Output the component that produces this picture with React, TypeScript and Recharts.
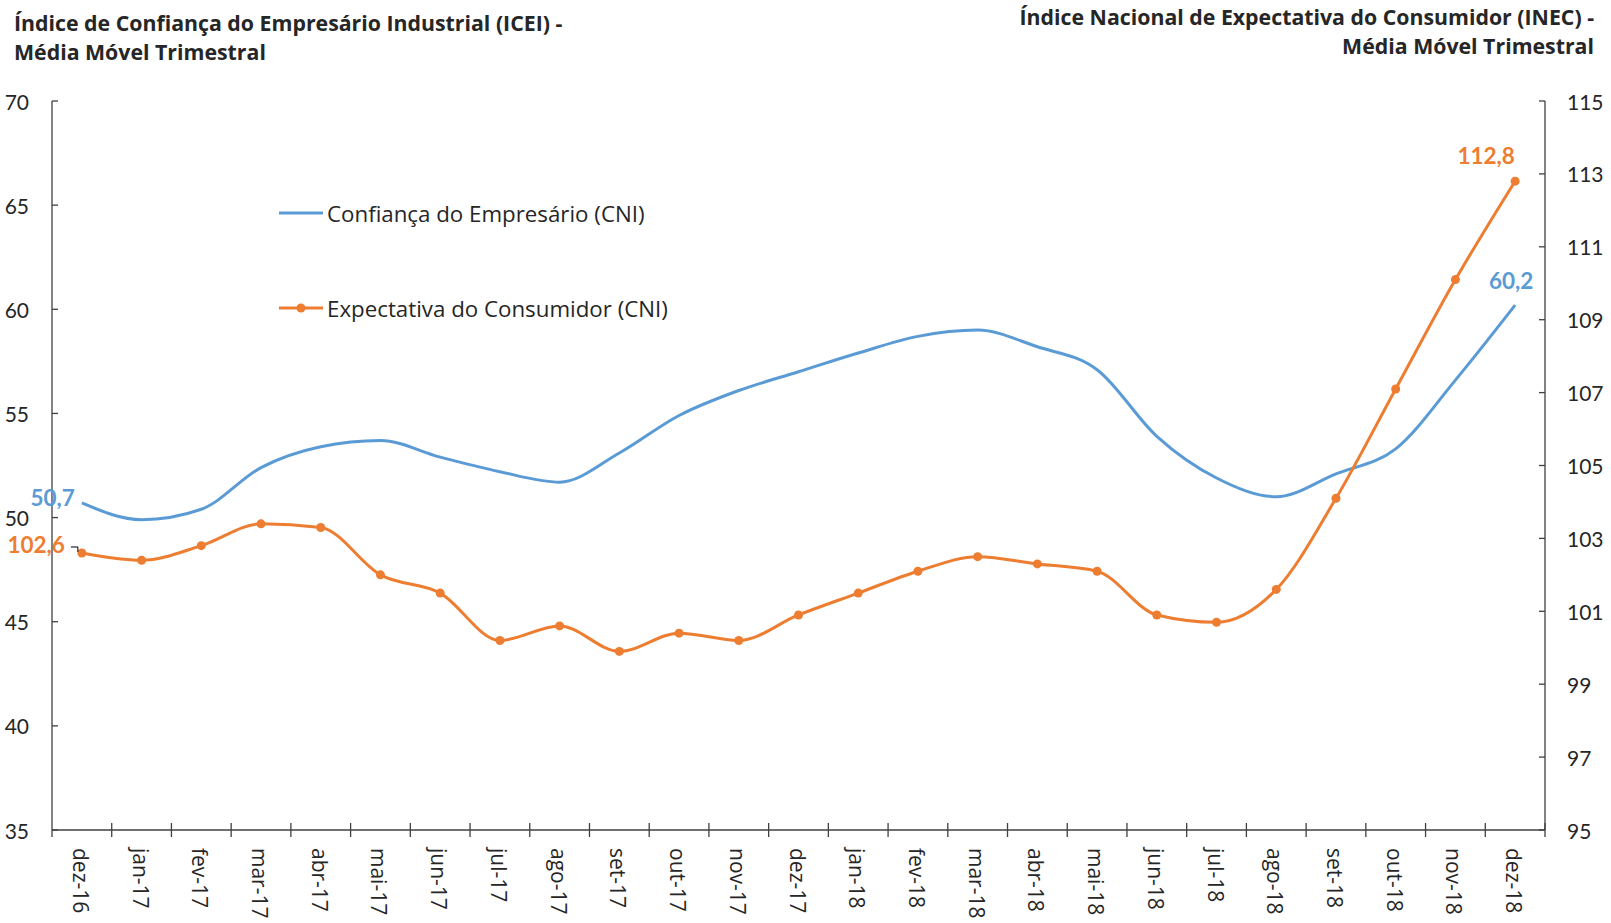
import React from 'react';
import { LineChart, Line, XAxis, YAxis, Legend } from 'recharts';

const months = [
  'dez-16', 'jan-17', 'fev-17', 'mar-17', 'abr-17', 'mai-17', 'jun-17', 'jul-17', 'ago-17',
  'set-17', 'out-17', 'nov-17', 'dez-17', 'jan-18', 'fev-18', 'mar-18', 'abr-18', 'mai-18',
  'jun-18', 'jul-18', 'ago-18', 'set-18', 'out-18', 'nov-18', 'dez-18',
];
// ICEI (left axis)
const confianca = [
  50.7, 49.9, 50.4, 52.4, 53.4, 53.7, 52.9, 52.2, 51.7, 53.1, 54.9, 56.1, 57.0,
  57.9, 58.7, 59.0, 58.2, 57.1, 53.9, 51.9, 51.0, 52.1, 53.3, 56.6, 60.2,
];
// INEC (right axis)
const expectativa = [
  102.6, 102.4, 102.8, 103.4, 103.3, 102.0, 101.5, 100.2, 100.6, 99.9, 100.4, 100.2, 100.9,
  101.5, 102.1, 102.5, 102.3, 102.1, 100.9, 100.7, 101.6, 104.1, 107.1, 110.1, 112.8,
];
const leftTicks = [35, 40, 45, 50, 55, 60, 65, 70];
const rightTicks = [95, 97, 99, 101, 103, 105, 107, 109, 111, 113, 115];

const BLUE = '#5B9BD5';
const ORANGE = '#ED7D31';
const AXIS = '#404040';
const TEXT = '#262626';
const FONT = 'Lato, "Liberation Sans", sans-serif';
const WIDE_FONT = '"Open Sans", "Noto Sans", sans-serif';

const W = 1611;
const H = 923;
const PLOT_LEFT = 52;
const PLOT_RIGHT = 1545;
const PLOT_TOP = 101;
const PLOT_BOTTOM = 830;
const X_AXIS_H = 90;
const BAND = (PLOT_RIGHT - PLOT_LEFT) / months.length;

const data = months.map((m, i) => ({
  month: m,
  confianca: confianca[i],
  expectativa: expectativa[i],
}));

const fmt = (v: number) => v.toFixed(1).replace('.', ',');

const MonthTick = (props: any) => {
  const { x, y, payload, index } = props;
  return (
    <g>
      <line x1={x + BAND / 2} x2={x + BAND / 2} y1={y - 7} y2={y + 7} stroke={AXIS} strokeWidth={1.3} />
      {index === 0 && (
        <line x1={x - BAND / 2} x2={x - BAND / 2} y1={y} y2={y + 7} stroke={AXIS} strokeWidth={1.3} />
      )}
      <text
        transform={`translate(${x - 1},${y + 18}) rotate(90)`}
        textAnchor="start"
        dominantBaseline="central"
        fontFamily={WIDE_FONT}
        fontSize={21}
        fill={TEXT}
      >
        {payload.value}
      </text>
    </g>
  );
};

const LeftTick = (props: any) => {
  const { x, y, payload } = props;
  return (
    <g>
      <line x1={x} x2={x + 6} y1={y} y2={y} stroke={AXIS} strokeWidth={1.3} />
      <text x={x - 23} y={y} textAnchor="end" dominantBaseline="central" fontFamily={FONT} fontSize={21} fill={TEXT}>
        {payload.value}
      </text>
    </g>
  );
};

const RightTick = (props: any) => {
  const { x, y, payload } = props;
  return (
    <g>
      <line x1={x - 6} x2={x} y1={y} y2={y} stroke={AXIS} strokeWidth={1.3} />
      <text x={x + 22} y={y} textAnchor="start" dominantBaseline="central" fontFamily={FONT} fontSize={21} fill={TEXT}>
        {payload.value}
      </text>
    </g>
  );
};

const labelStyle = (fill: string) => ({
  fontFamily: FONT,
  fontSize: 22.5,
  fontWeight: 700 as const,
  fill,
});

const ConfLabel = (props: any) => {
  const { x, y, index, value } = props;
  if (index === 0) {
    return <text x={x - 7} y={y - 5} textAnchor="end" dominantBaseline="central" {...labelStyle(BLUE)}>{fmt(value)}</text>;
  }
  if (index === confianca.length - 1) {
    return <text x={x - 4} y={y - 25} textAnchor="middle" dominantBaseline="central" {...labelStyle(BLUE)}>{fmt(value)}</text>;
  }
  return null;
};

const ExpLabel = (props: any) => {
  const { x, y, index, value } = props;
  if (index === 0) {
    return (
      <g>
        <polyline points={`${x - 11},${y - 6} ${x - 4},${y - 6} ${x - 4},${y - 1}`} fill="none" stroke="#000" strokeWidth={1} />
        <text x={x - 17} y={y - 8} textAnchor="end" dominantBaseline="central" {...labelStyle(ORANGE)}>{fmt(value)}</text>
      </g>
    );
  }
  if (index === expectativa.length - 1) {
    return <text x={x - 29} y={y - 26} textAnchor="middle" dominantBaseline="central" {...labelStyle(ORANGE)}>{fmt(value)}</text>;
  }
  return null;
};

const LegendContent = () => (
  <div style={{ fontFamily: WIDE_FONT, fontSize: 22.3, color: TEXT, whiteSpace: 'nowrap' }}>
    <div style={{ display: 'flex', alignItems: 'center', height: 30 }}>
      <svg width={44} height={12}>
        <line x1={0} x2={44} y1={6} y2={6} stroke={BLUE} strokeWidth={3} />
      </svg>
      <span style={{ marginLeft: 4 }}>Confiança do Empresário (CNI)</span>
    </div>
    <div style={{ height: 65 }} />
    <div style={{ display: 'flex', alignItems: 'center', height: 30 }}>
      <svg width={44} height={12}>
        <line x1={0} x2={44} y1={6} y2={6} stroke={ORANGE} strokeWidth={3} />
        <circle cx={22} cy={6} r={4.5} fill={ORANGE} />
      </svg>
      <span style={{ marginLeft: 4 }}>Expectativa do Consumidor (CNI)</span>
    </div>
  </div>
);

const titleStyle: React.CSSProperties = {
  position: 'absolute',
  fontFamily: WIDE_FONT,
  fontWeight: 700,
  fontSize: 21.3,
  lineHeight: '29px',
  color: TEXT,
  whiteSpace: 'nowrap',
};

export default function App() {
  return (
    <div style={{ position: 'absolute', left: 0, top: 0, width: W, height: H, background: '#fff' }}>
      <div style={{ ...titleStyle, left: 14, top: 8 }}>
        <div>Índice de Confiança do Empresário Industrial (ICEI) -</div>
        <div>Média Móvel Trimestral</div>
      </div>
      <div style={{ ...titleStyle, right: 17, top: 2, textAlign: 'right' }}>
        <div>Índice Nacional de Expectativa do Consumidor (INEC) -</div>
        <div>Média Móvel Trimestral</div>
      </div>
      <LineChart
        width={W}
        height={H}
        data={data}
        margin={{ top: PLOT_TOP, right: 0, left: 0, bottom: H - PLOT_BOTTOM - X_AXIS_H }}
      >
        <XAxis
          dataKey="month"
          scale="band"
          interval={0}
          height={X_AXIS_H}
          tickSize={0}
          tickMargin={0}
          tickLine={false}
          axisLine={{ stroke: AXIS, strokeWidth: 1.3 }}
          tick={MonthTick}
        />
        <YAxis
          yAxisId="left"
          orientation="left"
          width={PLOT_LEFT}
          domain={[35, 70]}
          ticks={leftTicks}
          interval={0}
          tickSize={0}
          tickMargin={0}
          tickLine={false}
          axisLine={{ stroke: AXIS, strokeWidth: 1.3 }}
          tick={LeftTick}
        />
        <YAxis
          yAxisId="right"
          orientation="right"
          width={W - PLOT_RIGHT}
          domain={[95, 115]}
          ticks={rightTicks}
          interval={0}
          tickSize={0}
          tickMargin={0}
          tickLine={false}
          axisLine={{ stroke: AXIS, strokeWidth: 1.3 }}
          tick={RightTick}
        />
        <Legend
          layout="vertical"
          align="center"
          verticalAlign="middle"
          content={LegendContent}
          wrapperStyle={{ left: 279, top: 198, width: 440, height: 125 }}
        />
        <Line
          yAxisId="left"
          type="monotone"
          dataKey="confianca"
          name="Confiança do Empresário (CNI)"
          stroke={BLUE}
          strokeWidth={3}
          dot={false}
          activeDot={false}
          label={ConfLabel}
          isAnimationActive={false}
        />
        <Line
          yAxisId="right"
          type="monotone"
          dataKey="expectativa"
          name="Expectativa do Consumidor (CNI)"
          stroke={ORANGE}
          strokeWidth={3}
          dot={{ r: 4.5, fill: ORANGE, stroke: ORANGE, strokeWidth: 0 }}
          activeDot={false}
          label={ExpLabel}
          isAnimationActive={false}
        />
      </LineChart>
    </div>
  );
}
